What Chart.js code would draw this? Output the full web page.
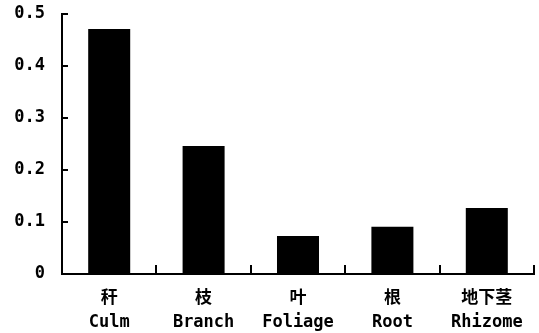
<!DOCTYPE html>
<html>
<head>
<meta charset="utf-8">
<script src="https://cdn.jsdelivr.net/npm/chart.js@4/dist/chart.umd.min.js"></script>
<style>
  html, body { margin: 0; padding: 0; background: #fff; }
  #wrap { width: 539px; height: 333px; }
</style>
</head>
<body>
<div id="wrap"><canvas id="chart"></canvas></div>
<script>
const labelsZh = ["秆", "枝", "叶", "根", "地下茎"];
const labelsEn = ["Culm", "Branch", "Foliage", "Root", "Rhizome"];
const values = [0.471, 0.246, 0.073, 0.091, 0.127];
const yTicks = [0, 0.1, 0.2, 0.3, 0.4, 0.5];

const FONT = '"DejaVu Sans Mono", "Noto Sans CJK SC", monospace';

// small inward tick marks on both axes
const innerTicks = {
  id: "innerTicks",
  afterDraw(chart) {
    const ctx = chart.ctx;
    const x = chart.scales.x, y = chart.scales.y;
    const area = chart.chartArea;
    ctx.save();
    ctx.strokeStyle = "#000";
    ctx.lineWidth = 2;
    ctx.beginPath();
    yTicks.forEach(v => {
      const py = Math.round(y.getPixelForValue(v));
      ctx.moveTo(area.left, py);
      ctx.lineTo(area.left + 6, py);
    });
    const n = labelsEn.length;
    const step = x.getPixelForValue(1) - x.getPixelForValue(0);
    for (let i = 0; i < n; i++) {
      const bx = Math.round(x.getPixelForValue(i) + step / 2);
      ctx.moveTo(bx, area.bottom);
      ctx.lineTo(bx, area.bottom - 9);
    }
    ctx.stroke();
    ctx.restore();
  }
};

new Chart(document.getElementById("chart"), {
  type: "bar",
  data: {
    labels: labelsZh.map((z, i) => [z, labelsEn[i]]),
    datasets: [{
      data: values,
      backgroundColor: "#000",
      borderWidth: 0,
      categoryPercentage: 1,
      barPercentage: 0.445
    }]
  },
  options: {
    responsive: true,
    maintainAspectRatio: false,
    animation: false,
    layout: { padding: { left: 0, right: 5, top: 14, bottom: 0 } },
    plugins: { legend: { display: false }, tooltip: { enabled: false } },
    scales: {
      x: {
        grid: { display: false, drawTicks: false },
        border: { display: true, color: "#000", width: 2 },
        ticks: {
          color: "#000",
          padding: 13,
          maxRotation: 0,
          autoSkip: false,
          font: { family: FONT, size: 17, weight: "bold", lineHeight: 1.4 }
        },
        afterFit(scale) { scale.height = 59; }
      },
      y: {
        min: 0,
        max: 0.5,
        grid: { display: false, drawTicks: false },
        border: { display: true, color: "#000", width: 2 },
        afterBuildTicks(scale) { scale.ticks = yTicks.map(v => ({ value: v })); },
        ticks: {
          color: "#000",
          padding: 17,
          font: { family: FONT, size: 17, weight: "bold" },
          callback: v => v === 0 ? "0" : v.toFixed(1)
        },
        afterFit(scale) {
          scale.width = 62;
          scale.paddingTop = 0;
          scale.paddingBottom = 0;
        }
      }
    }
  },
  plugins: [innerTicks]
});
</script>
</body>
</html>
